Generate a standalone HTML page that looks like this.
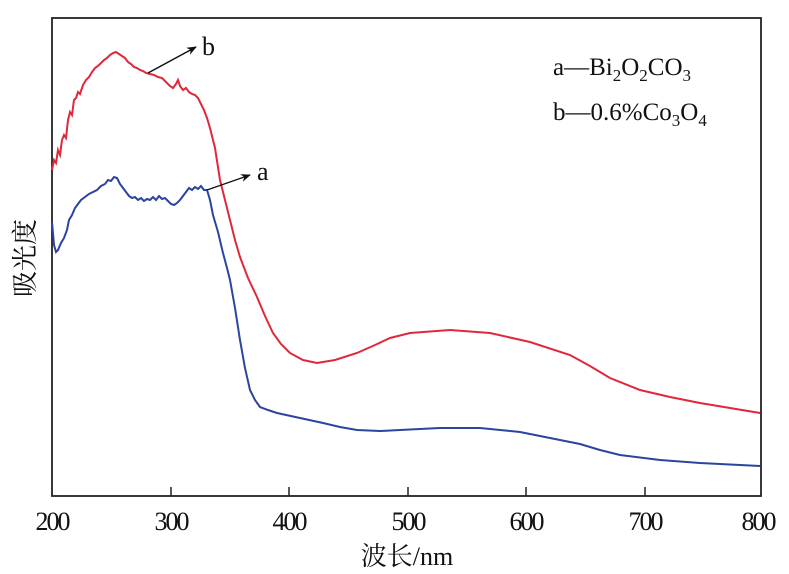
<!DOCTYPE html>
<html><head><meta charset="utf-8"><style>
html,body{margin:0;padding:0;background:#fff;}
svg{display:block;}
text{font-family:"Liberation Serif","Noto Serif CJK SC",serif;fill:#111;}
</style></head><body>
<svg width="789" height="574" viewBox="0 0 789 574" xmlns="http://www.w3.org/2000/svg">
<defs><marker id="ar" markerWidth="10" markerHeight="8" refX="9" refY="4" orient="auto" markerUnits="userSpaceOnUse"><path d="M0,0 L10,4 L0,8 L3,4 Z" fill="#111"/></marker></defs>
<rect x="52" y="18" width="709" height="478" fill="none" stroke="#222" stroke-width="1.8"/>
<g stroke="#222" stroke-width="1.5">
<line x1="171" y1="496" x2="171" y2="487"/><line x1="289" y1="496" x2="289" y2="487"/><line x1="408" y1="496" x2="408" y2="487"/><line x1="526" y1="496" x2="526" y2="487"/><line x1="645" y1="496" x2="645" y2="487"/>
</g>
<g font-size="26" text-anchor="middle" style="letter-spacing:-2px">
<text x="52" y="530">200</text><text x="171" y="530">300</text><text x="289" y="530">400</text><text x="408" y="530">500</text><text x="526" y="530">600</text><text x="645" y="530">700</text><text x="758" y="530">800</text>
</g>
<text x="407" y="565" font-size="26" text-anchor="middle">波长/nm</text>
<text transform="translate(34,258) rotate(-90)" font-size="26" text-anchor="middle">吸光度</text>
<path fill="none" stroke="#e0283a" stroke-width="2" d="M52,170 L54,160 L56,163 L58,150 L60,155 L62,140 L64,135 L66,138 L68,120 L70,112 L72,115 L74,100 L76,98 L78,92 L80,94 L83,85 L86,80 L89,77 L92,72 L95,68 L98,66 L101,63 L104,60 L107,58 L110,55 L113,53 L116,52 L119,54 L122,56 L125,58 L128,62 L131,64 L134,67 L137,68 L140,70 L143,71 L146,73 L150,74 L154,75 L158,77 L162,78 L166,82 L170,86 L173,88 L176,84 L178,80 L180,86 L183,90 L186,88 L189,92 L192,94 L195,95 L198,98 L201,104 L204,110 L207,118 L210,128 L215,148 L220,180 L225,200 L230,220 L235,240 L240,257 L248,278 L257,297 L265,316 L273,333 L281,344 L290,353 L303,360 L317,363 L335,360 L357,353 L375,345 L390,338 L410,333 L450,330 L490,333 L530,342 L570,355 L590,366 L610,378 L640,390 L670,397 L700,403 L730,408 L760,413"/>
<path fill="none" stroke="#2a44a0" stroke-width="2" d="M52,222 L54,245 L56,252 L58,250 L61,243 L64,238 L67,230 L69,220 L72,215 L75,208 L78,204 L81,200 L85,197 L89,194 L93,192 L97,190 L101,186 L105,184 L108,180 L111,181 L114,177 L117,178 L120,184 L123,188 L126,192 L129,196 L132,198 L135,197 L138,200 L141,198 L144,201 L147,199 L150,200 L153,197 L156,200 L159,196 L162,199 L165,198 L168,201 L171,204 L174,205 L177,203 L180,200 L183,196 L186,192 L189,188 L192,190 L195,187 L198,189 L201,186 L204,190 L207,190 L210,200 L213,215 L218,232 L223,253 L227,268 L230,280 L235,308 L240,340 L245,368 L250,390 L255,400 L260,407 L268,410 L277,413 L300,418 L323,423 L340,427 L357,430 L380,431 L400,430 L440,428 L480,428 L520,432 L560,440 L580,444 L600,450 L620,455 L660,460 L700,463 L760,466"/>
<line x1="148" y1="73" x2="196" y2="47" stroke="#111" stroke-width="1.5" marker-end="url(#ar)"/>
<text x="202" y="55" font-size="26">b</text>
<line x1="207" y1="190" x2="250" y2="175" stroke="#111" stroke-width="1.2" marker-end="url(#ar)"/>
<text x="257" y="180" font-size="26">a</text>
<text x="553" y="75" font-size="25">a—Bi<tspan font-size="17" dy="6">2</tspan><tspan dy="-6">O</tspan><tspan font-size="17" dy="6">2</tspan><tspan dy="-6">CO</tspan><tspan font-size="17" dy="6">3</tspan></text>
<text x="553" y="120" font-size="25">b—0.6%Co<tspan font-size="17" dy="6">3</tspan><tspan dy="-6">O</tspan><tspan font-size="17" dy="6">4</tspan></text>
</svg>
</body></html>
